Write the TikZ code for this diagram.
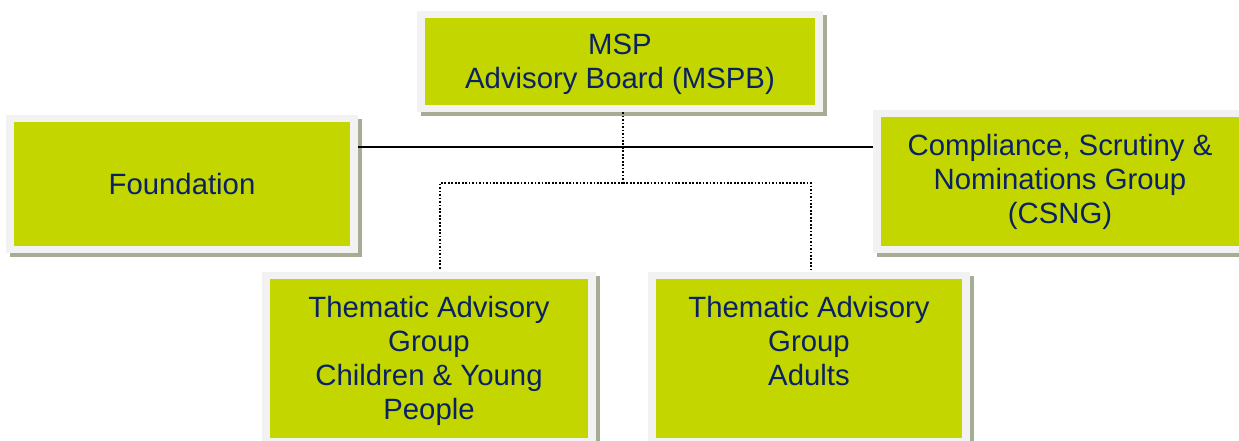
\documentclass[tikz,border=0pt]{standalone}
\usepackage{fontspec}
\setmainfont{Liberation Sans}
\definecolor{boxgreen}{RGB}{196,214,0}
\definecolor{framegrey}{RGB}{242,242,242}
\definecolor{shadowgrey}{RGB}{167,173,148}
\definecolor{navy}{RGB}{10,34,100}
\tikzset{
  orgbox/.style={fill=framegrey, inner sep=0pt,
    preaction={fill=shadowgrey, transform canvas={shift={(3pt,-3pt)}}},
    path picture={\fill[boxgreen] ([shift={(5.8pt,5.6pt)}]path picture bounding box.south west) rectangle ([shift={(-5.8pt,-5.6pt)}]path picture bounding box.north east);}},
  boxtext/.style={inner sep=0pt, align=center, text=navy, anchor=north,
    font=\fontsize{22}{25.5}\selectfont},
  solidlink/.style={draw=black, line width=1.4pt},
  dotlink/.style={draw=black, line width=1.3pt, dash pattern=on 1.3pt off 1.3pt}
}
\begin{document}
\begin{tikzpicture}[x=0.75pt,y=-0.75pt]
\useasboundingbox (0,0) rectangle (1239,441);
\clip (0,0) rectangle (1239,441);
\node[orgbox, minimum width=304.5pt, minimum height=75.75pt] (msp) at (620,61.5) {};
\node[orgbox, minimum width=264pt, minimum height=103.5pt] (found) at (182,184) {};
\node[orgbox, minimum width=280.5pt, minimum height=107.25pt] (csng) at (1060,181.5) {};
\node[orgbox, minimum width=250.5pt, minimum height=129.75pt] (cyp) at (429,358.5) {};
\node[orgbox, minimum width=241.5pt, minimum height=129.75pt] (adults) at (809,358.5) {};
\node[boxtext] (msp-t) at ([yshift=-17.5pt]msp.north) {MSP\\Advisory Board (MSPB)};
\node[boxtext, anchor=center] (found-t) at (found.center) {Foundation};
\node[boxtext] (csng-t) at ([yshift=-18.5pt]csng.north) {Compliance, Scrutiny \&\\Nominations Group\\(CSNG)};
\node[boxtext] (cyp-t) at ([yshift=-18.5pt]cyp.north) {Thematic Advisory\\Group\\Children \& Young\\People};
\node[boxtext] (adults-t) at ([yshift=-18.5pt]adults.north) {Thematic Advisory\\Group\\Adults};
\coordinate (hl) at (620,147);
\coordinate (jn) at (623,183);
\draw[solidlink] (found.east |- hl) -- (csng.west |- hl);
\draw[dotlink] ([xshift=2.25pt]msp.south) -- (jn);
\draw[dotlink] (jn) -| ([xshift=8.25pt,yshift=1.5pt]cyp.north);
\draw[dotlink] (jn) -| ([xshift=1.5pt,yshift=1.5pt]adults.north);
\end{tikzpicture}
\end{document}
